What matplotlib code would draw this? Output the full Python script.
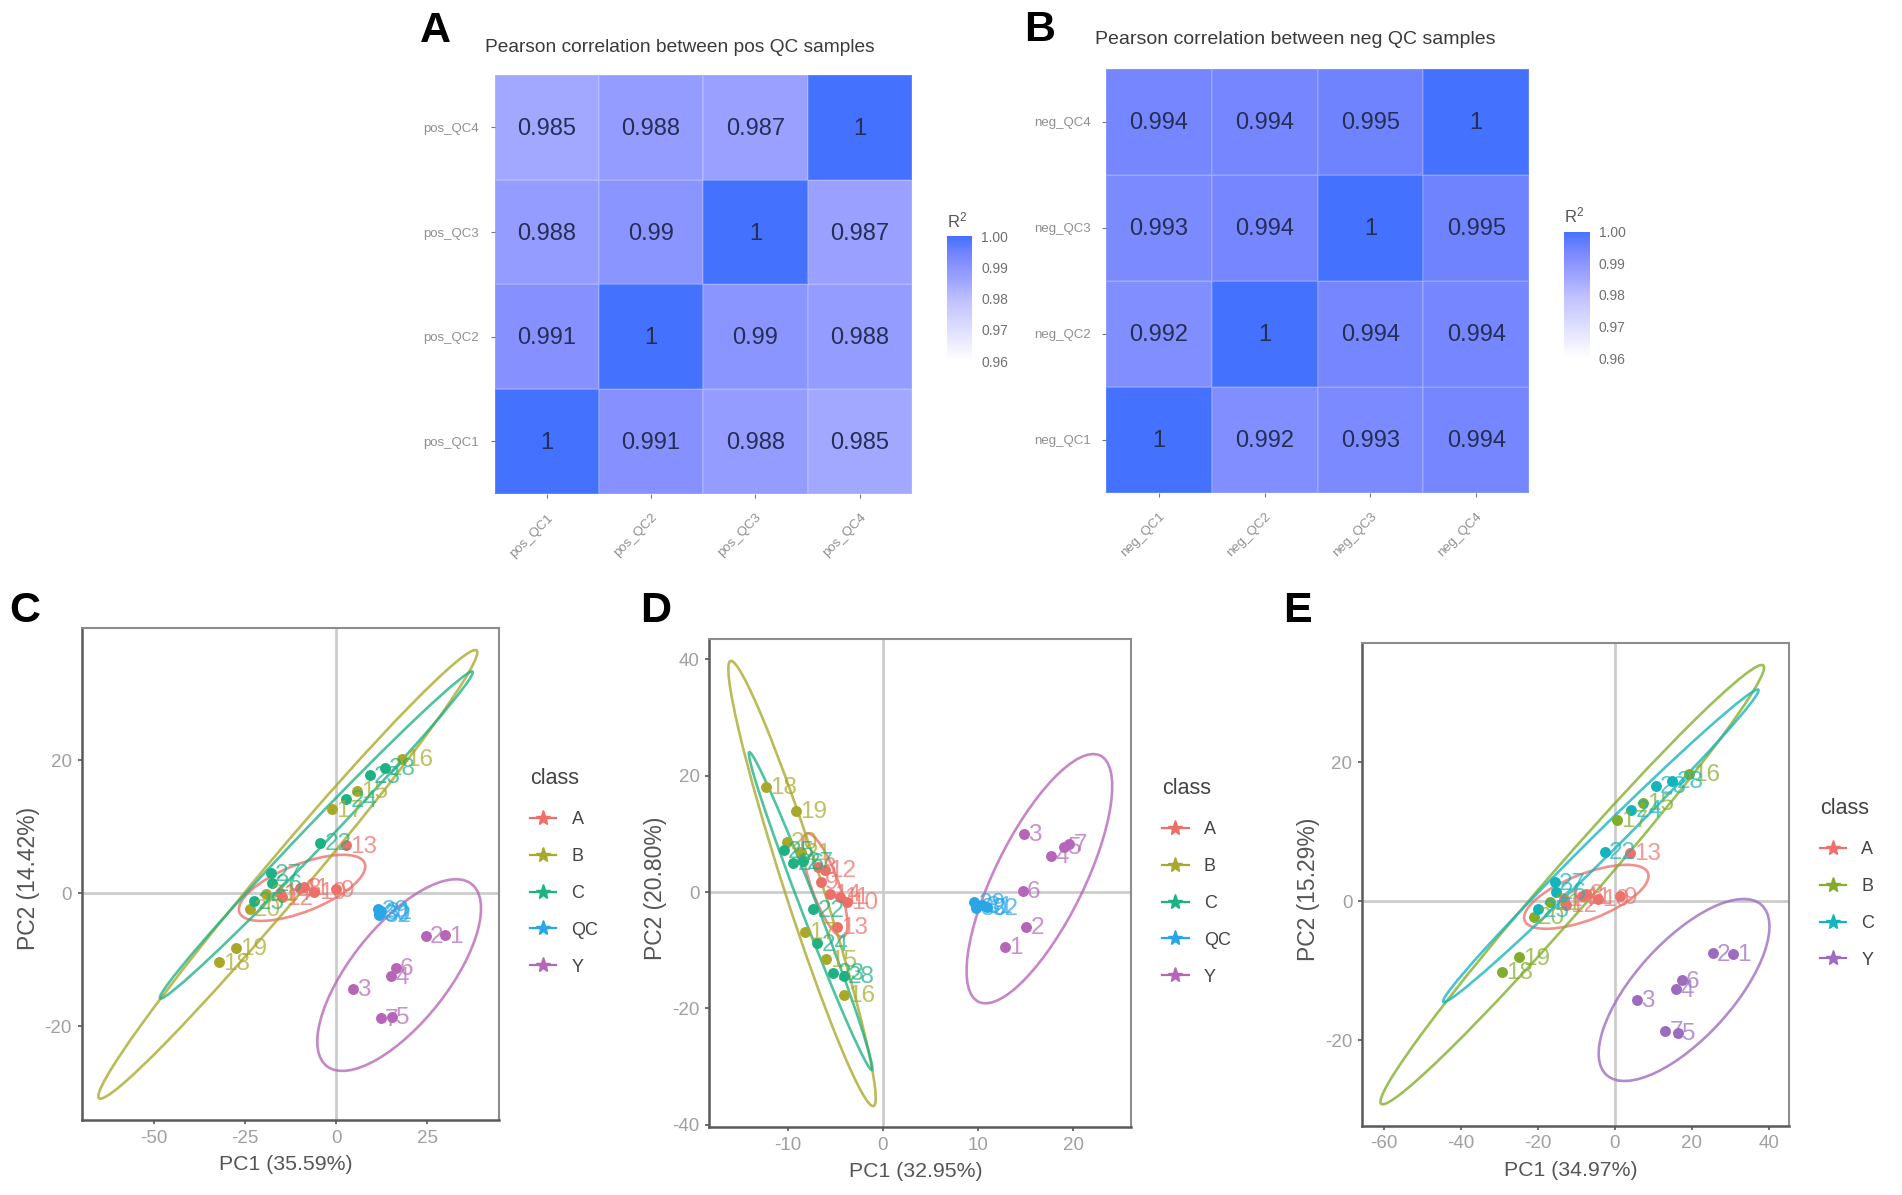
import numpy as np
import matplotlib
matplotlib.use('Agg')
import matplotlib.pyplot as plt
from matplotlib.colors import LinearSegmentedColormap
from matplotlib.lines import Line2D
from matplotlib.patches import Ellipse
from matplotlib.transforms import Affine2D

plt.rcParams['font.family'] = ['Liberation Sans', 'DejaVu Sans']
plt.rcParams['mathtext.default'] = 'regular'
plt.rcParams['axes.unicode_minus'] = False

W, H = 1902, 1195

# heatmaps, rows run from QC1 at the bottom to QC4 at the top
POS_NAMES = ['pos_QC1', 'pos_QC2', 'pos_QC3', 'pos_QC4']
NEG_NAMES = ['neg_QC1', 'neg_QC2', 'neg_QC3', 'neg_QC4']
POS_R2 = [[1, 0.991, 0.988, 0.985],
          [0.991, 1, 0.99, 0.988],
          [0.988, 0.99, 1, 0.987],
          [0.985, 0.988, 0.987, 1]]
NEG_R2 = [[1, 0.992, 0.993, 0.994],
          [0.992, 1, 0.994, 0.994],
          [0.993, 0.994, 1, 0.995],
          [0.994, 0.994, 0.995, 1]]
CBAR_TICKS = [0.96, 0.97, 0.98, 0.99, 1.00]

# sample numbers of each class
IDS_Y = [1, 2, 3, 4, 5, 6, 7]
IDS_A = [8, 9, 10, 11, 12, 13, 14]
IDS_B = [15, 16, 17, 18, 19, 20, 21]
IDS_C = [22, 23, 24, 25, 26, 27, 28]
IDS_QC = [29, 30, 31, 32]

# PCA scores, panel C
C_Y = [(29.9, -6.3), (24.6, -6.4), (4.6, -14.4), (15.1, -12.5), (15.4, -18.6), (16.4, -11.2), (12.2, -18.8)]
C_A = [(-8.7, 0.9), (0.1, 0.6), (-5.9, 0.2), (-9.8, 0.8), (-14.9, -0.6), (2.8, 7.2), (-15.4, 0.05)]
C_B = [(5.8, 15.4), (18, 20.2), (-1.1, 12.6), (-32.1, -10.4), (-27.4, -8.2), (-23.6, -2.3), (-19.1, -0.06)]
C_C = [(-4.3, 7.6), (9.3, 17.7), (2.8, 14.1), (-22.5, -1.2), (-17.6, 1.5), (-17.8, 3.0), (13.4, 18.9)]
C_QC = [(11.4, -2.4), (11.7, -3.0), (12.3, -2.7), (11.9, -3.2)]

# panel D
D_Y = [(12.8, -9.4), (15.06, -6.0), (14.8, 10.0), (17.7, 6.2), (19.0, 7.8), (14.7, 0.2), (19.6, 8.3)]
D_A = [(-6.78, 4.38), (-6.52, 1.79), (-3.73, -1.66), (-4.51, -0.8), (-6.09, 3.78), (-4.81, -5.97), (-5.54, -0.33)]
D_B = [(-6.0, -11.6), (-4.1, -17.7), (-8.2, -6.8), (-12.3, 18.1), (-9.1, 14.0), (-10.1, 8.6), (-8.6, 6.8)]
D_C = [(-7.3, -3.0), (-5.2, -13.9), (-6.9, -8.8), (-10.4, 7.2), (-9.4, 5.0), (-8.4, 5.3), (-4.1, -14.4)]
D_QC = [(9.6, -1.8), (9.8, -2.7), (10.4, -2.3), (10.9, -2.6)]

# panel E has no QC group
E_Y = [(30.6, -7.6), (25.4, -7.5), (5.8, -14.2), (15.9, -12.7), (16.4, -19), (17.4, -11.4), (13.1, -18.7)]
E_A = [(-7.6, 1), (1.3, 0.7), (-4.5, 0.3), (-8.7, 0.7), (-12.8, -0.5), (3.9, 6.9), (-13.3, 0.3)]
E_B = [(7.2, 14.1), (19.2, 18.3), (0.6, 11.7), (-29.3, -10.2), (-24.9, -8.1), (-21.1, -2.3), (-16.8, -0.2)]
E_C = [(-2.7, 7.1), (10.7, 16.6), (4.2, 13.1), (-19.9, -1.2), (-15.4, 1.3), (-15.6, 2.7), (14.9, 17.3)]

# ellipses: centre, end of long axis, end of short axis
C_ELL_Y = [(17.3, -12.3), (36.9, 1.48), (28.2, -16.5)]
C_ELL_A = [(-9.3, 0.81), (7.8, 4.58), (-6.6, -2.43)]
C_ELL_B = [(-13.2, 2.84), (38.5, 36.5), (-8.5, 0.87)]
C_ELL_C = [(-5.4, 8.75), (37.4, 33.3), (-3.0, 7.6)]
D_ELL_Y = [(16.46, 2.29), (22.8, 23.5), (20.75, -0.76)]
D_ELL_A = [(-6.09, 1.19), (-4.16, -7.69), (-4.72, 1.92)]
D_ELL_B = [(-8.5, 1.46), (-0.99, -36.8), (-6.59, 2.35)]
D_ELL_C = [(-7.6, -3.28), (-1.16, -30.6), (-6.78, -2.85)]
E_ELL_Y = [(17.98, -12.8), (38.0, -0.5), (27.6, -17.3)]
E_ELL_A = [(-7.44, 0.61), (8.57, 4.06), (-5.17, -2.44)]
E_ELL_B = [(-11.1, 2.36), (38.6, 33.9), (-6.6, 0.31)]
E_ELL_C = [(-3.67, 7.94), (37.3, 30.4), (-1.45, 6.78)]

COL5 = {'A': '#EC6F68', 'B': '#A8A82A', 'C': '#1DB184', 'QC': '#2AA6E6', 'Y': '#B566B8'}
COL4 = {'A': '#EE726C', 'B': '#80AE2A', 'C': '#14B4BC', 'Y': '#9C6CBE'}

heat_cmap = LinearSegmentedColormap.from_list(
    'r2', [(0, '#FFFFFF'), (0.5, '#BEBFFF'), (0.625, '#A2A8FF'), (0.75, '#8C95FF'),
           (0.875, '#7083FF'), (1, '#4472FF')])

fig = plt.figure(figsize=(W / 100, H / 100), dpi=100, facecolor='white')


def px_axes(x0, y0, x1, y1):
    return fig.add_axes([x0 / W, 1 - y1 / H, (x1 - x0) / W, (y1 - y0) / H])


def draw_heat(rect, names, r2, title, title_xy, title_size, bar_rect, r2_xy):
    ax = px_axes(*rect)
    ax.pcolormesh(np.array(r2), cmap=heat_cmap, vmin=0.96, vmax=1.0,
                  edgecolors=(1, 1, 1, 0.14), linewidth=1.2)
    for i, row in enumerate(r2):
        for j, v in enumerate(row):
            ax.text(j + 0.5, i + 0.485, f'{v:g}', ha='center', va='center', fontsize=17, color='#252E55')
    for s in ax.spines.values():
        s.set_visible(False)
    ax.set_xticks(np.arange(4) + 0.5)
    ax.set_yticks(np.arange(4) + 0.5)
    ax.set_xticklabels(names, rotation=45, ha='right', rotation_mode='anchor', fontsize=9.5, color='#8f8f8f')
    ax.set_yticklabels(names, fontsize=9.5, color='#8f8f8f')
    ax.tick_params(axis='x', length=3, color='#777777', pad=10)
    ax.tick_params(axis='y', length=3, color='#777777', pad=8)
    fig.text(title_xy[0] / W, 1 - title_xy[1] / H, title, ha='center', va='center',
             fontsize=title_size, color='#3a3a3a')

    # colour bar
    cax = px_axes(*bar_rect)
    grad = np.linspace(0.96, 1.0, 200).reshape(-1, 1)
    cax.imshow(grad, cmap=heat_cmap, vmin=0.96, vmax=1.0, origin='lower', aspect='auto',
               extent=[0, 1, 0.96, 1.0])
    for s in cax.spines.values():
        s.set_visible(False)
    cax.set_xticks([])
    cax.yaxis.tick_right()
    cax.set_yticks(CBAR_TICKS)
    cax.set_yticklabels([f'{t:.2f}' for t in CBAR_TICKS], fontsize=10, color='#707070')
    cax.tick_params(axis='y', length=0, pad=7)
    fig.text(r2_xy[0] / W, 1 - r2_xy[1] / H, 'R$^2$', ha='left', va='center', fontsize=12, color='#555555')


def draw_ellipse(ax, ell, color):
    c, tip, side = np.array(ell[0]), np.array(ell[1]), np.array(ell[2])
    a, b = tip - c, side - c
    tr = Affine2D.from_values(a[0], a[1], b[0], b[1], c[0], c[1]) + ax.transData
    ax.add_patch(Ellipse((0, 0), 2, 2, fill=False, edgecolor=color, linewidth=1.9, alpha=0.78, transform=tr))


def draw_pca(rect, xlim, ylim, xticks, yticks, xlabel, ylabel, groups, ells, colors, legend_xy):
    ax = px_axes(*rect)
    ax.set_xlim(*xlim)
    ax.set_ylim(*ylim)
    ax.axhline(0, color='#cccccc', lw=2, zorder=1)
    ax.axvline(0, color='#cccccc', lw=2, zorder=1)
    for name, ell in ells.items():
        draw_ellipse(ax, ell, colors[name])
    for name, (ids, pts) in groups.items():
        xs = [p[0] for p in pts]
        ys = [p[1] for p in pts]
        ax.scatter(xs, ys, s=62, color=colors[name], linewidths=0, zorder=3)
        for n, x, y in zip(ids, xs, ys):
            ax.annotate(str(n), (x, y), xytext=(3, -1), textcoords='offset points', ha='left', va='center',
                        fontsize=17.5, color=colors[name], alpha=0.72, zorder=4)
    ax.set_xticks(xticks)
    ax.set_yticks(yticks)
    ax.tick_params(length=3, color='#555555', labelsize=13.5, labelcolor='#a0a0a0', pad=4, width=1.2)
    ax.set_xlabel(xlabel, fontsize=15.3, color='#555555')
    ax.set_ylabel(ylabel, fontsize=16.5, color='#555555')
    ax.xaxis.set_label_coords(0.49, -35 / (rect[3] - rect[1]))
    ax.yaxis.set_label_coords(-42 / (rect[2] - rect[0]), 0.49)
    for side in ['top', 'right']:
        ax.spines[side].set_color('#8c8c8c')
        ax.spines[side].set_linewidth(1.5)
    for side in ['left', 'bottom']:
        ax.spines[side].set_color('#5a5a5a')
        ax.spines[side].set_linewidth(1.8)
    handles = [Line2D([0], [0], color=colors[k], marker='*', markersize=11, lw=1.6, label=k) for k in colors]
    leg = ax.legend(handles=handles, title='class', loc='upper left', frameon=False,
                    bbox_to_anchor=(legend_xy[0] / W, 1 - legend_xy[1] / H), bbox_transform=fig.transFigure,
                    borderpad=0, borderaxespad=0, fontsize=13, title_fontsize=15.5, alignment='left',
                    labelspacing=1.1, handlelength=1.45, handletextpad=0.85, labelcolor='#444444')
    leg.get_title().set_color('#444444')
    leg._legend_box.sep = 16
    return ax


draw_heat((494.5, 75.2, 912, 493.6), POS_NAMES, POS_R2, 'Pearson correlation between pos QC samples',
          (680, 47), 13.8, (946.7, 236.3, 971.6, 361.2), (946.7, 220))
draw_heat((1106, 68.8, 1529, 492.5), NEG_NAMES, NEG_R2, 'Pearson correlation between neg QC samples',
          (1295, 39.5), 14, (1563.7, 231.8, 1589, 358.2), (1563.7, 215))

draw_pca((81.6, 627.8, 498.8, 1120.1), (-69.7, 44.6), (-34.1, 39.9), [-50, -25, 0, 25], [-20, 0, 20],
         'PC1 (35.59%)', 'PC2 (14.42%)',
         {'Y': (IDS_Y, C_Y), 'B': (IDS_B, C_B), 'C': (IDS_C, C_C), 'QC': (IDS_QC, C_QC), 'A': (IDS_A, C_A)},
         {'Y': C_ELL_Y, 'A': C_ELL_A, 'B': C_ELL_B, 'C': C_ELL_C}, COL5, (530, 768))
draw_pca((709.4, 639, 1130.6, 1127), (-18.24, 26.05), (-40.4, 43.5), [-10, 0, 10, 20], [-40, -20, 0, 20, 40],
         'PC1 (32.95%)', 'PC2 (20.80%)',
         {'Y': (IDS_Y, D_Y), 'B': (IDS_B, D_B), 'C': (IDS_C, D_C), 'QC': (IDS_QC, D_QC), 'A': (IDS_A, D_A)},
         {'Y': D_ELL_Y, 'A': D_ELL_A, 'B': D_ELL_B, 'C': D_ELL_C}, COL5, (1162.4, 778))
draw_pca((1362, 643.2, 1788.7, 1125.5), (-65.8, 45.2), (-32.3, 37.1), [-60, -40, -20, 0, 20, 40], [-20, 0, 20],
         'PC1 (34.97%)', 'PC2 (15.29%)',
         {'Y': (IDS_Y, E_Y), 'B': (IDS_B, E_B), 'C': (IDS_C, E_C), 'A': (IDS_A, E_A)},
         {'Y': E_ELL_Y, 'A': E_ELL_A, 'B': E_ELL_B, 'C': E_ELL_C}, COL4, (1819.7, 798))

# panel letters
for letter, x, y in [('A', 420, 42), ('B', 1024, 41), ('C', 9, 622), ('D', 640, 622), ('E', 1283, 622)]:
    fig.text(x / W, 1 - y / H, letter, fontsize=31, fontweight='bold', color='black', ha='left', va='baseline')

fig.savefig('out.png', dpi=100)
